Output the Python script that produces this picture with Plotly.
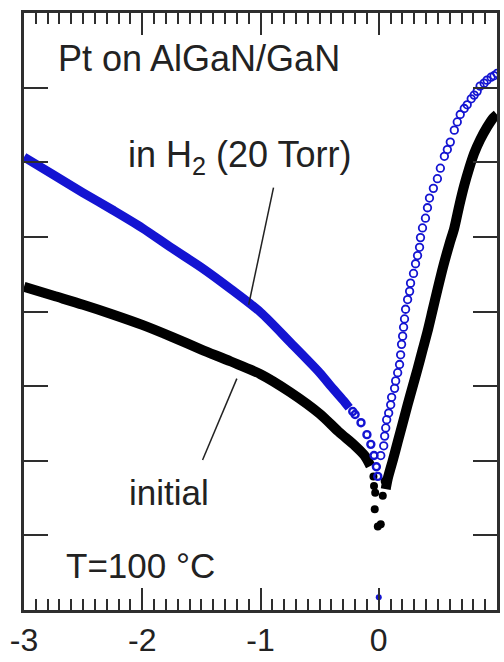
import plotly.graph_objects as go

# ---- data (y = log-current in axis units 0..8) ----
# in H2, reverse bias (dense markers -> thick band)
h2_neg_x = [-3.0, -2.75, -2.5, -2.25, -2.0, -1.75, -1.5, -1.25, -1.0, -0.75, -0.5, -0.4, -0.3, -0.25]
h2_neg_y = [6.07, 5.83, 5.59, 5.36, 5.12, 4.85, 4.59, 4.30, 3.99, 3.59, 3.18, 2.99, 2.81, 2.71]
# in H2, individual circles near zero
h2_zero_x = [-0.22, -0.2, -0.15, -0.1, -0.067, -0.04, -0.02, -0.008]
h2_zero_y = [2.66, 2.62, 2.51, 2.35, 2.22, 2.07, 1.92, 1.79]
# in H2, forward bias (open circles)
h2_pos_x = [0.017, 0.042, 0.050, 0.059, 0.067, 0.084, 0.101, 0.109, 0.134, 0.143, 0.160, 0.176,
            0.185, 0.193, 0.202, 0.210, 0.218, 0.227, 0.244, 0.261, 0.269, 0.294, 0.311, 0.328,
            0.345, 0.353, 0.370, 0.395, 0.412, 0.429, 0.462, 0.496, 0.521, 0.555, 0.580, 0.605,
            0.639, 0.664, 0.689, 0.723, 0.748, 0.782, 0.807, 0.832, 0.857, 0.891, 0.916, 0.950,
            0.975, 1.0]
h2_pos_y = [2.07, 2.20, 2.33, 2.44, 2.55, 2.64, 2.75, 2.85, 2.97, 3.07, 3.18, 3.29,
            3.42, 3.56, 3.67, 3.79, 3.90, 4.03, 4.16, 4.27, 4.38, 4.51, 4.64, 4.75,
            4.86, 4.99, 5.12, 5.25, 5.39, 5.52, 5.65, 5.78, 5.92, 6.08, 6.17, 6.27,
            6.43, 6.54, 6.64, 6.72, 6.77, 6.85, 6.90, 6.95, 7.02, 7.06, 7.10, 7.14,
            7.16, 7.19]
# in H2, point at V = 0
h2_v0_x = [0.0]
h2_v0_y = [0.17]

# initial, reverse bias
ini_neg_x = [-3.0, -2.75, -2.5, -2.25, -2.0, -1.75, -1.5, -1.25, -1.0, -0.75, -0.5, -0.34, -0.2, -0.12, -0.07]
ini_neg_y = [4.33, 4.21, 4.09, 3.96, 3.82, 3.66, 3.49, 3.33, 3.16, 2.92, 2.63, 2.39, 2.20, 2.07, 1.93]
# initial, scattered points near zero
ini_zero_x = [-0.045, -0.04, -0.03, -0.034, -0.008, 0.017, 0.034, 0.05]
ini_zero_y = [1.79, 1.66, 1.57, 1.35, 1.12, 1.15, 1.53, 1.73]
# initial, forward bias
ini_pos_x = [0.059, 0.076, 0.118, 0.160, 0.202, 0.244, 0.286, 0.328, 0.370, 0.412, 0.454, 0.496,
             0.546, 0.597, 0.639, 0.681, 0.723, 0.765, 0.807, 0.857, 0.916, 0.966, 1.0]
ini_pos_y = [1.62, 1.76, 2.00, 2.25, 2.50, 2.75, 2.99, 3.23, 3.48, 3.73, 4.01, 4.29,
             4.61, 4.90, 5.12, 5.42, 5.69, 5.92, 6.12, 6.30, 6.47, 6.59, 6.64]

# axis ticks
x_major = [-3, -2.5, -2, -1.5, -1, -0.5, 0, 0.5, 1]
x_labels = ["-3", "", "-2", "", "-1", "", "0", "", "1"]
x_minor = [round(-3 + 0.1 * i, 1) for i in range(41)]
y_tickvals = [1, 2, 3, 4, 5, 6, 7]

BLUE = "#1414d2"
BLACK = "#000000"
AX = "#2e2e2e"
FONT = "Liberation Sans"

fig = go.Figure()

fig.add_trace(go.Scatter(x=ini_neg_x, y=ini_neg_y, mode="lines",
                         line=dict(color=BLACK, width=10, shape="spline", smoothing=0.8),
                         hoverinfo="skip"))
fig.add_trace(go.Scatter(x=ini_zero_x, y=ini_zero_y, mode="markers",
                         marker=dict(color=BLACK, size=8), hoverinfo="skip"))
fig.add_trace(go.Scatter(x=ini_pos_x, y=ini_pos_y, mode="lines",
                         line=dict(color=BLACK, width=10, shape="spline", smoothing=0.8),
                         hoverinfo="skip"))
fig.add_trace(go.Scatter(x=h2_neg_x, y=h2_neg_y, mode="lines",
                         line=dict(color=BLUE, width=9, shape="spline", smoothing=0.8),
                         hoverinfo="skip"))
fig.add_trace(go.Scatter(x=h2_zero_x, y=h2_zero_y, mode="markers",
                         marker=dict(color=BLUE, size=7, symbol="circle-open",
                                     line=dict(color=BLUE, width=2.4)), hoverinfo="skip"))
fig.add_trace(go.Scatter(x=h2_pos_x, y=h2_pos_y, mode="markers",
                         marker=dict(color=BLUE, size=7.5, symbol="circle-open",
                                     line=dict(color=BLUE, width=1.8)), hoverinfo="skip"))
fig.add_trace(go.Scatter(x=h2_v0_x, y=h2_v0_y, mode="markers",
                         marker=dict(color=BLUE, size=6), hoverinfo="skip"))

# labels
fig.add_annotation(x=-2.73, y=7.39, text="Pt on AlGaN/GaN", showarrow=False,
                   xanchor="left", yanchor="middle", font=dict(family=FONT, size=36, color="#222"))
fig.add_annotation(x=-2.14, y=6.07, text="in H<sub>2</sub> (20 Torr)", showarrow=False,
                   xanchor="left", yanchor="middle", font=dict(family=FONT, size=36, color="#222"))
fig.add_annotation(x=-2.13, y=1.57, text="initial", showarrow=False,
                   xanchor="left", yanchor="middle", font=dict(family=FONT, size=35, color="#222"))
fig.add_annotation(x=-2.66, y=0.59, text="T=100 °C", showarrow=False,
                   xanchor="left", yanchor="middle", font=dict(family=FONT, size=35, color="#222"))

# leader lines
fig.add_shape(type="line", x0=-0.89, y0=5.66, x1=-1.10, y1=4.09,
              line=dict(color="#222", width=1.5))
fig.add_shape(type="line", x0=-1.49, y0=2.01, x1=-1.20, y1=3.10,
              line=dict(color="#222", width=1.5))

fig.update_layout(
    xaxis=dict(range=[-3, 1], showgrid=False, zeroline=False,
               showline=True, linecolor=AX, linewidth=2.5, mirror="allticks",
               ticks="inside", ticklen=22, tickwidth=2.2, tickcolor=AX,
               tickmode="array", tickvals=x_major, ticktext=x_labels,
               tickfont=dict(family=FONT, size=32, color="#222"),
               minor=dict(tickmode="array", tickvals=x_minor, ticks="inside", ticklen=11,
                          tickwidth=2.2, tickcolor=AX, showgrid=False)),
    yaxis=dict(range=[0, 8], showgrid=False, zeroline=False,
               showline=True, linecolor=AX, linewidth=2.5, mirror="allticks",
               ticks="inside", ticklen=24, tickwidth=2.2, tickcolor=AX,
               tickmode="array", tickvals=y_tickvals, showticklabels=False),
    width=504, height=662, showlegend=False,
    margin=dict(l=24, r=4, t=13, b=37, pad=0),
    paper_bgcolor="white", plot_bgcolor="white")

fig.write_html("out.html")
